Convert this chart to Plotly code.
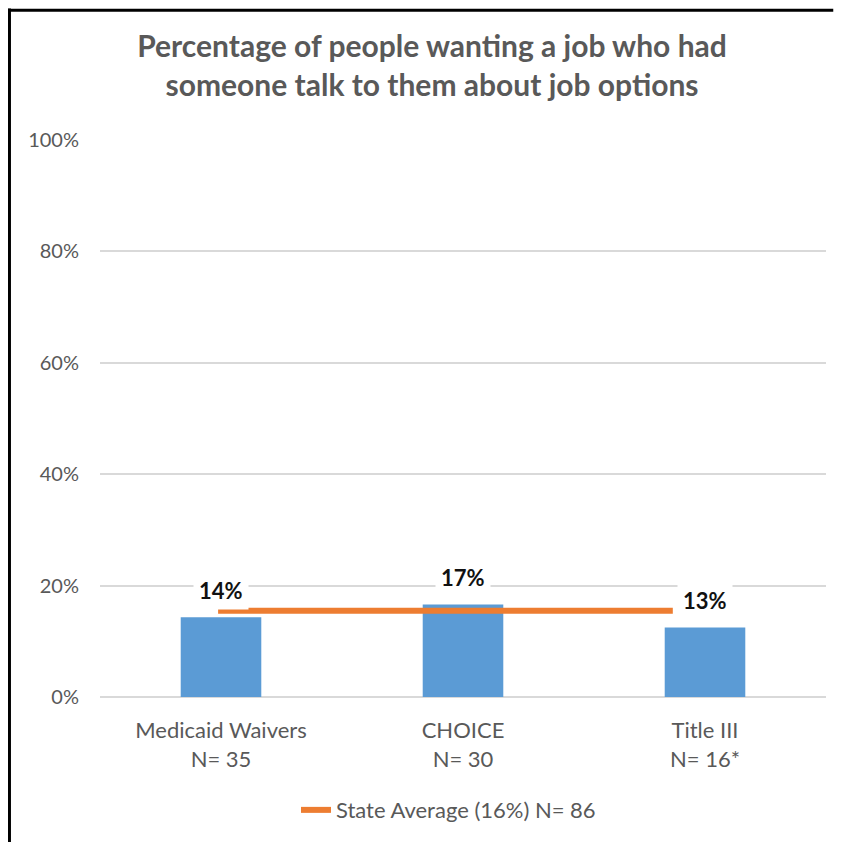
import plotly.graph_objects as go

# Chart data
categories = ["Medicaid Waivers<br>N= 35", "CHOICE<br>N= 30", "Title III<br>N= 16*"]
pct_values = [0.143, 0.166, 0.125]
pct_labels = ["14%", "17%", "13%"]

# State average line (drawn on a hidden numeric axis, spans)
avg_x = [-0.012, 1.867]
avg_y = [0.155, 0.155]
avg_name = "State Average (16%) N= 86"

y_ticks = [0, 0.2, 0.4, 0.6, 0.8, 1.0]
y_ticktext = ["0%", "20%", "40%", "60%", "80%", "100%"]

FONT = "Lato, sans-serif"
GRAY = "#595959"
BLUE = "#5B9BD5"
ORANGE = "#ED7D31"

fig = go.Figure()

fig.add_trace(go.Bar(
    x=categories, y=pct_values,
    marker=dict(color=BLUE, line=dict(width=0)),
    width=0.333, showlegend=False, hoverinfo="skip"
))

fig.add_trace(go.Scatter(
    x=avg_x, y=avg_y, xaxis="x2",
    mode="lines", name=avg_name,
    line=dict(color=ORANGE, width=6)
))

# Data labels above bars
for cat, val, lab in zip(categories, pct_values, pct_labels):
    fig.add_annotation(
        x=cat, y=val, text=lab, showarrow=False,
        yanchor="middle", yshift=27,
        font=dict(family=FONT, size=22, color="#111111", weight="bold"),
        bgcolor="white", borderpad=5
    )

# Black frame on top and left edge of the picture
fig.add_shape(type="line", xref="paper", yref="paper",
              x0=-0.127, x1=1.01, y0=1.233, y1=1.233,
              line=dict(color="black", width=3))
fig.add_shape(type="line", xref="paper", yref="paper",
              x0=-0.1247, x1=-0.1247, y0=-0.3, y1=1.236,
              line=dict(color="black", width=3))

fig.update_layout(
    width=829, height=834,
    margin=dict(l=92, r=11, t=132, b=141),
    paper_bgcolor="white", plot_bgcolor="white",
    font=dict(family=FONT, color=GRAY, size=20),
    title=dict(
        text="Percentage of people wanting a job who had<br>someone talk to them about job options",
        x=0.5115, xanchor="center", xref="container",
        y=0.941, yanchor="top",
        font=dict(family=FONT, size=30, color=GRAY, weight="bold")
    ),
    xaxis=dict(
        showgrid=False, showline=False, ticks="", ticklabelstandoff=18,
        tickfont=dict(size=22, color=GRAY)
    ),
    xaxis2=dict(overlaying="x", range=[-0.5, 2.5], visible=False),
    yaxis=dict(
        range=[0, 1], tickvals=y_ticks, ticktext=y_ticktext,
        showgrid=True, gridcolor="#d9d9d9", gridwidth=2,
        zeroline=True, zerolinecolor="#d9d9d9", zerolinewidth=2,
        showline=False, ticks="", ticklabelstandoff=20,
        tickfont=dict(size=20, color=GRAY)
    ),
    legend=dict(
        orientation="h", x=0.48, xanchor="center", y=-0.203, yanchor="middle",
        font=dict(size=22, color=GRAY)
    ),
    bargap=0.667
)

fig.write_html("out.html")
